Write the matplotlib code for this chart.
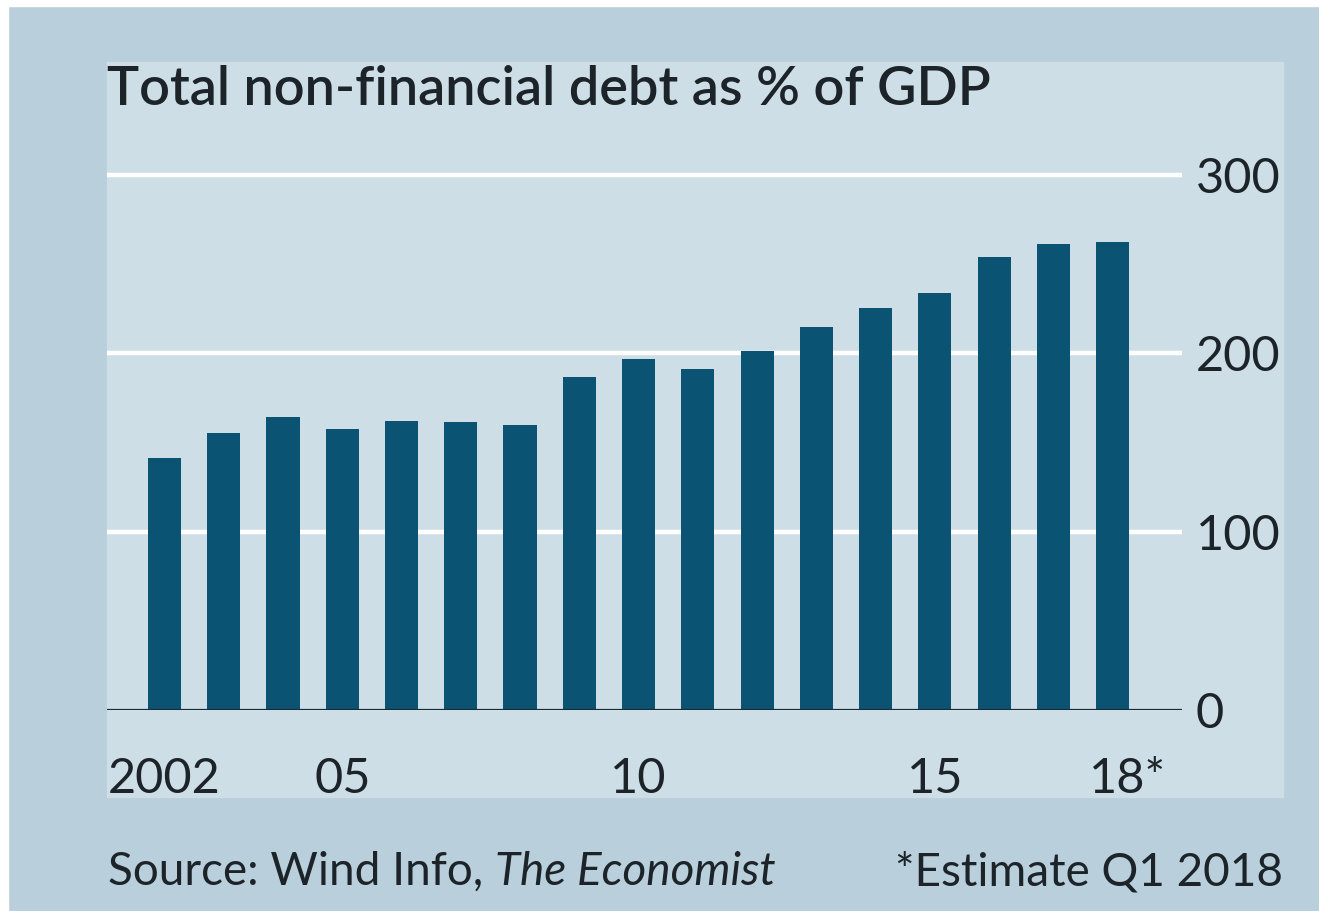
import matplotlib.pyplot as plt
import matplotlib.patches as mpatches
from matplotlib.transforms import ScaledTranslation

years = list(range(2002, 2019))
debt_pct = [141.5, 155.5, 164.5, 157.6, 162.3, 161.7, 159.8, 187.0, 196.7,
            191.3, 201.3, 215.0, 225.3, 233.7, 253.9, 261.4, 262.6]
tick_years = [2002, 2005, 2010, 2015, 2018]
tick_labels = ["2002", "05", "10", "15", "18*"]
y_ticks = [0, 100, 200, 300]

outer_bg = "#b9cfdb"
panel_bg = "#cedee6"
bar_color = "#0b5373"
text_color = "#1c2329"

plt.rcParams['font.family'] = ['Lato', 'DejaVu Sans']

fig = plt.figure(figsize=(13.19, 9.11), dpi=100)
fig.patch.set_facecolor(outer_bg)

# thin white frame at top/left and the lighter chart panel, kept behind the axes
fig.patches.append(mpatches.Rectangle((0, 1 - 6 / 911), 1, 6 / 911, transform=fig.transFigure,
                                      color="white", zorder=-5))
fig.patches.append(mpatches.Rectangle((0, 0), 8 / 1319, 1, transform=fig.transFigure,
                                      color="white", zorder=-5))
fig.patches.append(mpatches.Rectangle((107 / 1319, 1 - 797 / 911), 1176 / 1319, 735 / 911,
                                      transform=fig.transFigure, color=panel_bg, zorder=-5))

ax = fig.add_axes([107 / 1319, 1 - 710 / 911, 1075 / 1319, 552.7 / 911])
ax.set_facecolor("none")

ax.bar(years, debt_pct, width=0.56, color=bar_color, zorder=3)

ax.set_xlim(2001.03, 2019.17)
ax.set_ylim(0, 310)

for y in y_ticks[1:]:
    ax.axhline(y, color="white", lw=3.2, zorder=1)
ax.axhline(0, color="#1b2a33", lw=2.3, zorder=4)

for s in ax.spines.values():
    s.set_visible(False)

ax.yaxis.tick_right()
ax.set_yticks(y_ticks)
ax.set_yticklabels([str(v) for v in y_ticks])
ax.tick_params(axis="y", length=0, pad=10, labelsize=35, labelcolor=text_color)
for lbl in ax.get_yticklabels():
    lbl.set_horizontalalignment("left")

ax.set_xticks(tick_years)
ax.set_xticklabels(tick_labels)
ax.tick_params(axis="x", length=0, pad=34, labelsize=35, labelcolor=text_color)
last = ax.get_xticklabels()[-1]
last.set_transform(last.get_transform() + ScaledTranslation(15 / 100, 0, fig.dpi_scale_trans))

fig.text(107 / 1319, 1 - 105 / 911, "Total non-financial debt as % of GDP",
         fontsize=39, fontweight="semibold", color=text_color, ha="left", va="baseline")

src = fig.text(108 / 1319, 1 - 885 / 911, "Source: Wind Info, ", fontsize=33,
               color=text_color, ha="left", va="baseline")
fig.canvas.draw()
bb = src.get_window_extent(fig.canvas.get_renderer())
fig.text(bb.x1 / 1319, 1 - 885 / 911, "The Economist", fontsize=33, fontstyle="italic",
         color=text_color, ha="left", va="baseline")
fig.text(1283 / 1319, 1 - 885 / 911, "*Estimate Q1 2018", fontsize=33,
         color=text_color, ha="right", va="baseline")

fig.savefig("out.png", dpi=100, facecolor=outer_bg)
